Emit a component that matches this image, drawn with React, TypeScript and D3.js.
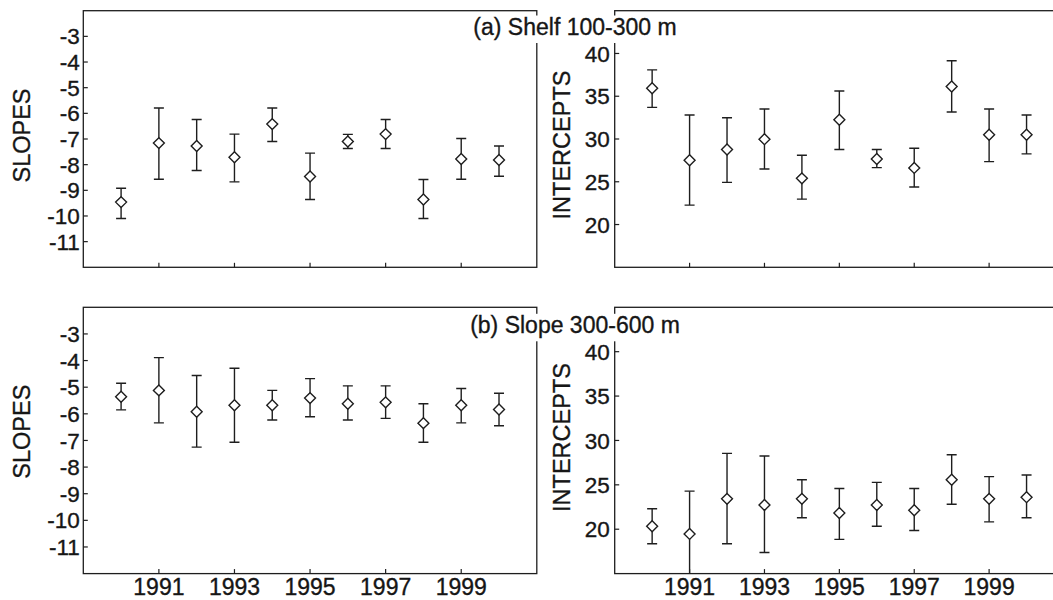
import React, { useEffect, useRef } from "react";
import * as d3 from "d3";

// years of the survey
const years = [1990, 1991, 1992, 1993, 1994, 1995, 1996, 1997, 1998, 1999, 2000];

// (a) Shelf 100-300 m
const shelfSlope = [-9.46, -7.16, -7.27, -7.71, -6.42, -8.46, -7.1, -6.81, -9.36, -7.78, -7.82];
const shelfSlopeHi = [-8.92, -5.79, -6.24, -6.81, -5.79, -7.55, -6.82, -6.24, -8.58, -6.98, -7.27];
const shelfSlopeLo = [-10.1, -8.57, -8.23, -8.67, -7.1, -9.36, -7.37, -7.37, -10.1, -8.57, -8.45];
const shelfInt = [35.93, 27.51, 28.77, 29.98, 25.4, 32.25, 27.67, 26.62, 36.13, 30.49, 30.49];
const shelfIntHi = [38.08, 32.8, 32.49, 33.5, 28.1, 35.62, 28.77, 28.92, 39.14, 33.5, 32.8];
const shelfIntLo = [33.7, 22.27, 24.93, 26.5, 22.97, 28.77, 26.65, 24.38, 33.15, 27.36, 28.26];

// (b) Slope 300-600 m
const slopeSlope = [-5.36, -5.12, -5.92, -5.68, -5.68, -5.41, -5.62, -5.57, -6.35, -5.68, -5.84];
const slopeSlopeHi = [-4.85, -3.89, -4.56, -4.29, -5.12, -4.68, -4.95, -4.95, -5.62, -5.05, -5.23];
const slopeSlopeLo = [-5.85, -6.34, -7.25, -7.07, -6.23, -6.11, -6.23, -6.17, -7.07, -6.34, -6.45];
const slopeInt = [20.34, 19.47, 23.42, 22.73, 23.42, 21.82, 22.73, 22.13, 25.58, 23.42, 23.61];
const slopeIntHi = [22.31, 24.29, 28.54, 28.24, 25.58, 24.59, 25.28, 24.59, 28.39, 25.92, 26.11];
const slopeIntLo = [18.37, 14.6, 18.37, 17.38, 21.29, 18.86, 20.34, 19.85, 22.81, 20.83, 21.29];

const slopeTicks = [-11, -10, -9, -8, -7, -6, -5, -4, -3];
const interceptTicks = [20, 25, 30, 35, 40];
const yearTicks = [1991, 1993, 1995, 1997, 1999];
const titles = ["(a) Shelf 100-300 m", "(b) Slope 300-600 m"];

const FONT = "'Liberation Sans', Arial, Helvetica, sans-serif";
const INK = "#1e1e1e";
const TXT = "#161616";

const App = () => {
  const ref = useRef<HTMLDivElement>(null);

  useEffect(() => {
    const width = 1053, height = 600;
    const root = d3.select(ref.current);
    root.selectAll("*").remove();

    const svg = root.append("svg")
      .attr("width", width)
      .attr("height", height)
      .style("position", "absolute")
      .style("left", 0)
      .style("top", 0)
      .style("font-family", FONT);

    // small helper so all text gets the same slightly heavy look
    const label = (sel: any, size: number) =>
      sel.attr("font-size", size)
        .attr("fill", TXT)
        .attr("stroke", TXT)
        .attr("stroke-width", 0.35);

    const rows = [
      { y0: 10.7, y1: 267.3, showYears: false, slope: [shelfSlope, shelfSlopeLo, shelfSlopeHi], icpt: [shelfInt, shelfIntLo, shelfIntHi], slopeLabelY: 135.5, icptLabelY: 145, titleY: 35 },
      { y0: 307.3, y1: 573.6, showYears: true, slope: [slopeSlope, slopeSlopeLo, slopeSlopeHi], icpt: [slopeInt, slopeIntLo, slopeIntHi], slopeLabelY: 431.7, icptLabelY: 437.5, titleY: 333.3 },
    ];

    rows.forEach((row, ri) => {
      const panels = [
        { x0: 83.3, x1: 536.8, domain: [-12, -2], ticks: slopeTicks, series: row.slope, label: "SLOPES", labelX: 30.3, labelY: row.slopeLabelY, tickGap: 3.5 },
        { x0: 614.7, x1: 1064, domain: [15, 45], ticks: interceptTicks, series: row.icpt, label: "INTERCEPTS", labelX: 569.7, labelY: row.icptLabelY, tickGap: 5 },
      ];

      panels.forEach((p, pi) => {
        const x = d3.scaleLinear().domain([1989, 2001]).range([p.x0, p.x1]);
        const y = d3.scaleLinear().domain(p.domain).range([row.y1, row.y0]);
        const g = svg.append("g");
        const clipId = `clip-${ri}-${pi}`;
        svg.append("clipPath").attr("id", clipId)
          .append("rect")
          .attr("x", p.x0).attr("y", row.y0)
          .attr("width", p.x1 - p.x0).attr("height", row.y1 - row.y0);

        // box
        g.append("rect")
          .attr("x", p.x0).attr("y", row.y0)
          .attr("width", p.x1 - p.x0).attr("height", row.y1 - row.y0)
          .attr("fill", "none").attr("stroke", INK).attr("stroke-width", 1.3);

        // y ticks (inside)
        p.ticks.forEach(t => {
          g.append("line")
            .attr("x1", p.x0).attr("x2", p.x0 + 4.5)
            .attr("y1", y(t)).attr("y2", y(t))
            .attr("stroke", INK).attr("stroke-width", 1.2);
          label(g.append("text")
            .attr("x", p.x0 - p.tickGap).attr("y", y(t))
            .attr("dy", "0.36em")
            .attr("text-anchor", "end"), 22.5)
            .text(t);
        });

        // x ticks (inside)
        yearTicks.forEach(t => {
          g.append("line")
            .attr("x1", x(t)).attr("x2", x(t))
            .attr("y1", row.y1).attr("y2", row.y1 - 4.5)
            .attr("stroke", INK).attr("stroke-width", 1.2);
          if (row.showYears) {
            label(g.append("text")
              .attr("x", x(t)).attr("y", 595)
              .attr("text-anchor", "middle"), 23)
              .text(t);
          }
        });

        // axis label
        label(g.append("text")
          .attr("transform", `translate(${p.labelX},${p.labelY}) rotate(-90)`)
          .attr("text-anchor", "middle"), 23.5)
          .text(p.label);

        const [mid, lo, hi] = p.series;
        const marks = g.append("g").attr("clip-path", `url(#${clipId})`);
        const pts = marks.selectAll(".pt")
          .data(years.map((yr, i) => ({ yr, mid: mid[i], lo: lo[i], hi: hi[i] })))
          .enter()
          .append("g")
          .attr("class", "pt");

        pts.append("line")
          .attr("x1", d => x(d.yr)).attr("x2", d => x(d.yr))
          .attr("y1", d => y(d.lo)).attr("y2", d => y(d.hi))
          .attr("stroke", INK).attr("stroke-width", 1.4);
        pts.append("line")
          .attr("x1", d => x(d.yr) - 5).attr("x2", d => x(d.yr) + 5)
          .attr("y1", d => y(d.hi)).attr("y2", d => y(d.hi))
          .attr("stroke", INK).attr("stroke-width", 1.4);
        pts.append("line")
          .attr("x1", d => x(d.yr) - 5).attr("x2", d => x(d.yr) + 5)
          .attr("y1", d => y(d.lo)).attr("y2", d => y(d.lo))
          .attr("stroke", INK).attr("stroke-width", 1.4);

        const diamond = d3.symbol().type(d3.symbolDiamond2).size(76);
        pts.append("path")
          .attr("d", diamond)
          .attr("transform", d => `translate(${x(d.yr)},${y(d.mid)})`)
          .attr("fill", "white")
          .attr("stroke", INK)
          .attr("stroke-width", 1.4);
      });

      // panel title with white background, drawn over both panels
      const tg = svg.append("g");
      const txt = label(tg.append("text")
        .attr("x", 575).attr("y", row.titleY)
        .attr("text-anchor", "middle"), 23)
        .text(titles[ri]);
      const bb = (txt.node() as SVGTextElement).getBBox();
      tg.insert("rect", "text")
        .attr("x", bb.x - 3).attr("y", row.titleY - 19.5)
        .attr("width", bb.width + 6).attr("height", 27.5)
        .attr("fill", "white");
    });
  }, []);

  return <div ref={ref}></div>;
};

export default App;
